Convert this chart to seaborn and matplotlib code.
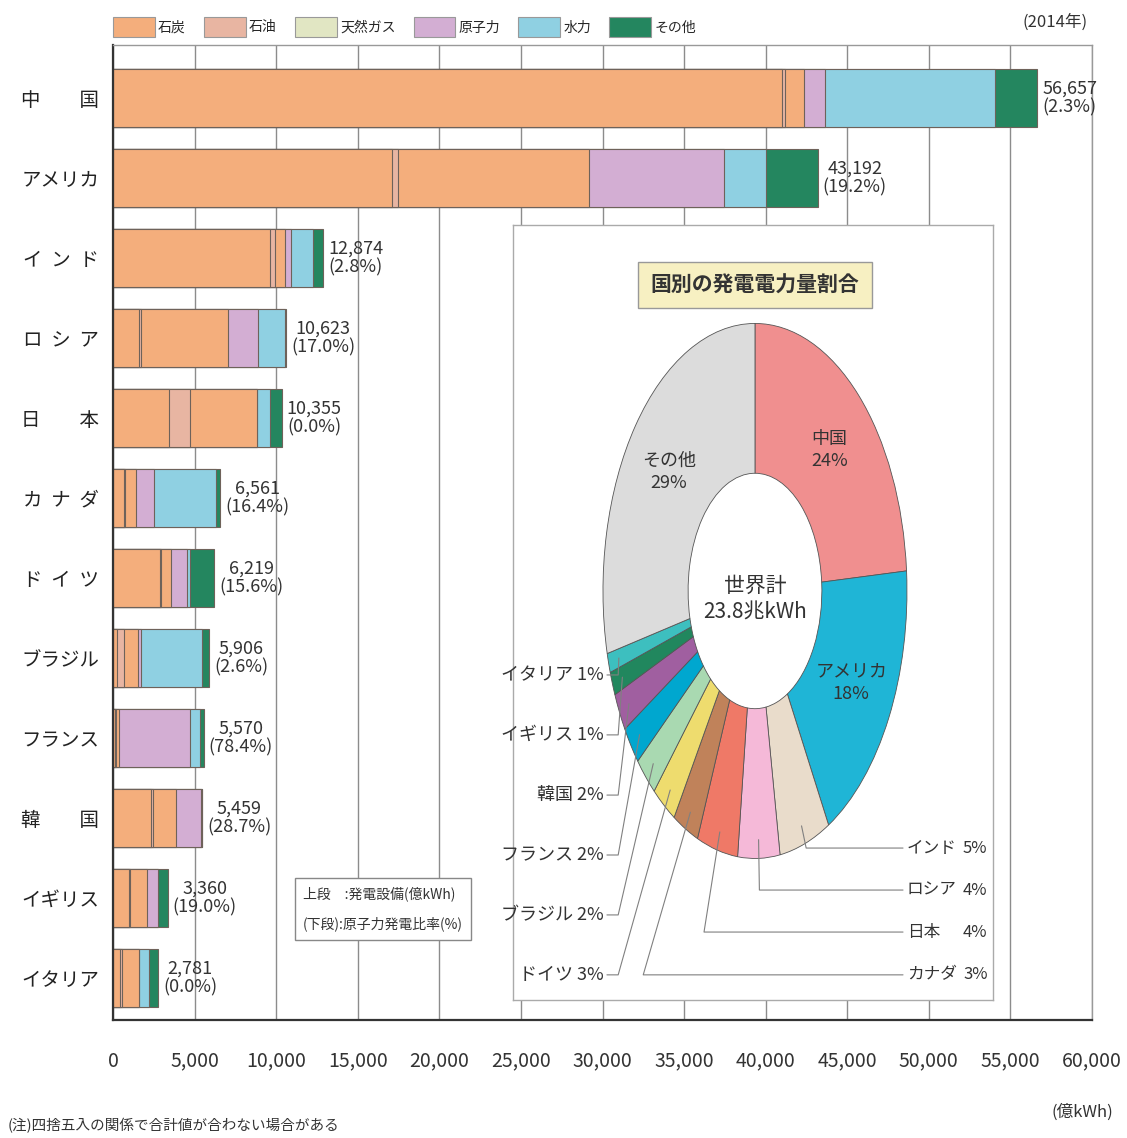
import numpy as np
import pandas as pd
import matplotlib
matplotlib.use("Agg")
import matplotlib.pyplot as plt
from matplotlib.patches import Patch
import seaborn as sns

# ---- data (億kWh, 2014) ----
countries = ["中国", "アメリカ", "インド", "ロシア", "日本", "カナダ",
             "ドイツ", "ブラジル", "フランス", "韓国", "イギリス", "イタリア"]
sources = ["石炭", "石油", "天然ガス", "原子力", "水力", "その他"]
coal = [41000, 17100, 9650, 1600, 3450, 650, 2850, 250, 130, 2300, 1000, 450]
oil = [200, 350, 250, 100, 1250, 80, 100, 400, 80, 150, 60, 100]
gas = [1150, 11700, 650, 5350, 4100, 680, 600, 900, 150, 1400, 1030, 1050]
nuclear = [1303, 8293, 360, 1806, 0, 1076, 970, 154, 4367, 1567, 638, 0]
hydro = [10430, 2600, 1330, 1700, 850, 3830, 200, 3730, 600, 10, 60, 580]
other = [2574, 3149, 634, 67, 705, 245, 1499, 472, 243, 32, 572, 601]
totals = [56657, 43192, 12874, 10623, 10355, 6561, 6219, 5906, 5570, 5459, 3360, 2781]
nuclear_pct = [2.3, 19.2, 2.8, 17.0, 0.0, 16.4, 15.6, 2.6, 78.4, 28.7, 19.0, 0.0]

world_total = 238000  # 23.8兆kWh
pie_names = countries + ["その他"]
pie_pct = [24, 18, 5, 4, 4, 3, 3, 2, 2, 2, 1, 1, 29]

legend_colors = ["#F4AE7C", "#E8B5A2", "#E1E6C3", "#D3AED3", "#8FD0E2", "#24865F"]
# in the bars the gas segment is printed in the coal orange
bar_colors = ["#F4AE7C", "#E8B5A2", "#F4AE7C", "#D3AED3", "#8FD0E2", "#24865F"]
pie_colors = ["#F08F8F", "#1FB5D6", "#E9DCCB", "#F5B9D8", "#EF7967", "#C0825A",
              "#EEDC6E", "#A9D9B1", "#00A7CF", "#A05FA0", "#21875E", "#3DBFBF",
              "#DCDCDC"]

sns.set_theme(style="white")
plt.rcParams["font.family"] = ["Noto Sans CJK JP", "DejaVu Sans"]
txt = "#333333"

df = pd.DataFrame({"country": countries, "石炭": coal, "石油": oil, "天然ガス": gas,
                   "原子力": nuclear, "水力": hydro, "その他": other})
cum = df[sources].cumsum(axis=1)
cum["country"] = df["country"]

fig = plt.figure(figsize=(11.27, 11.38), dpi=100)
ax = fig.add_axes([113 / 1127, 1 - 1020 / 1138, 979 / 1127, 975 / 1138])

# stacked bars: draw cumulative layers from outermost inward
for src, col in reversed(list(zip(sources, bar_colors))):
    sns.barplot(data=cum, x=src, y="country", order=countries, orient="h",
                color=col, saturation=1, width=0.72, errorbar=None,
                edgecolor="#6e625a", linewidth=0.8, ax=ax)

for i, (t, p) in enumerate(zip(totals, nuclear_pct)):
    ax.text(t + 300, i, f"{t:,}\n({p:.1f}%)", ha="left", va="center",
            multialignment="center", fontsize=13, color=txt, linespacing=1.05)


def spaced(name):
    if len(name) == 2:
        return name[0] + "\u3000\u3000" + name[1]
    if len(name) == 3:
        return "  ".join(name)
    return name


ax.set_xlim(0, 60000)
ax.set_ylim(len(countries) - 0.475, -0.66)
ax.set_xticks(np.arange(0, 60001, 5000))
ax.set_xticklabels([f"{v:,}" for v in range(0, 60001, 5000)], fontsize=14, color=txt)
ax.set_yticks(range(len(countries)))
ax.set_yticklabels([spaced(c) for c in countries], fontsize=14, color="#222222")
ax.set_xlabel("")
ax.set_ylabel("")
ax.tick_params(axis="x", length=0, pad=22)
ax.tick_params(axis="y", length=0, pad=10)
ax.set_axisbelow(True)
ax.grid(axis="x", color="#8c8c8c", linewidth=1)
ax.grid(axis="y", visible=False)
for s in ["left", "bottom"]:
    ax.spines[s].set_color("#333333")
    ax.spines[s].set_linewidth(1.6)
for s in ["top", "right"]:
    ax.spines[s].set_color("#999999")
    ax.spines[s].set_linewidth(1.0)

# legend
handles = [Patch(facecolor=c, edgecolor="#999999", linewidth=0.8) for c in legend_colors]
fig.legend(handles, sources, loc="center left", bbox_to_anchor=(113 / 1127, 1 - 27 / 1138),
           ncol=6, frameon=False, fontsize=10, handlelength=3.0, handleheight=1.75,
           handletextpad=0.25, columnspacing=1.3, borderaxespad=0, borderpad=0)
fig.text(1055 / 1127, 1 - 22 / 1138, "(2014年)", ha="center", va="center", fontsize=12, color=txt)
fig.text(1082 / 1127, 1 - 1112 / 1138, "(億kWh)", ha="center", va="center", fontsize=12, color=txt)
fig.text(8 / 1127, 1 - 1126 / 1138, "(注)四捨五入の関係で合計値が合わない場合がある",
         ha="left", va="center", fontsize=10.5, color=txt)
fig.text(383 / 1127, 1 - 909 / 1138, "上段\u3000:発電設備(億kWh)\n(下段):原子力発電比率(%)",
         ha="center", va="center", multialignment="left", fontsize=10, color=txt,
         linespacing=2.3,
         bbox=dict(boxstyle="square,pad=0.6", facecolor="white", edgecolor="#888888", linewidth=1))

# ---- donut inset ----
ax2 = fig.add_axes([513 / 1127, 1 - 1000 / 1138, 480 / 1127, 775 / 1138])
pie_values = totals + [world_total - sum(totals)]
wedges, _ = ax2.pie(pie_values, colors=pie_colors, startangle=90, counterclock=False,
                    radius=1, wedgeprops=dict(width=0.56, edgecolor="#555555", linewidth=0.6))
ax2.set_aspect("auto")
ax2.set_xlim(-1.592, 1.566)
ax2.set_ylim(-1.529, 1.368)
ax2.set_frame_on(True)
ax2.set_facecolor("white")
for s in ax2.spines.values():
    s.set_color("#aaaaaa")
    s.set_linewidth(1.0)

ax2.text(0, 1.144, "国別の発電電力量割合", ha="center", va="center", fontsize=15,
         fontweight="bold", color=txt,
         bbox=dict(boxstyle="square,pad=0.6", facecolor="#F7F0C2", edgecolor="#999999", linewidth=1))
ax2.text(0, -0.03, "世界計\n23.8兆kWh", ha="center", va="center", fontsize=15,
         color=txt, linespacing=1.25)

mids = [np.deg2rad((w.theta1 + w.theta2) / 2) for w in wedges]

for i in [0, 1, 12]:
    r = 0.72
    ax2.text(r * np.cos(mids[i]), r * np.sin(mids[i]), f"{pie_names[i]}\n{pie_pct[i]}%",
             ha="center", va="center", fontsize=13, color=txt, linespacing=1.3)

line_kw = dict(color="#808080", linewidth=0.8)
right_idx = [2, 3, 4, 5]
right_y = [-0.961, -1.118, -1.275, -1.435]
for i, ly in zip(right_idx, right_y):
    axx, ayy = 0.93 * np.cos(mids[i]), 0.93 * np.sin(mids[i])
    ex = axx * (1 + 1.2 * abs(ly - ayy))
    ax2.plot([axx, ex, 0.974], [ayy, ly, ly], **line_kw)
    ax2.text(1.0, ly, pie_names[i], ha="left", va="center", fontsize=12, color=txt)
    ax2.text(1.53, ly, f"{pie_pct[i]}%", ha="right", va="center", fontsize=12, color=txt)

left_idx = [11, 10, 9, 8, 7, 6]
left_y = [-0.314, -0.538, -0.763, -0.987, -1.211, -1.435]
for i, ly in zip(left_idx, left_y):
    axx, ayy = 0.93 * np.cos(mids[i]), 0.93 * np.sin(mids[i])
    ax2.plot([-0.974, -0.90, axx], [ly, ly, ayy], **line_kw)
    ax2.text(-0.993, ly, f"{pie_names[i]} {pie_pct[i]}%", ha="right", va="center",
             fontsize=13, color=txt)

fig.savefig("out.png", dpi=100)
